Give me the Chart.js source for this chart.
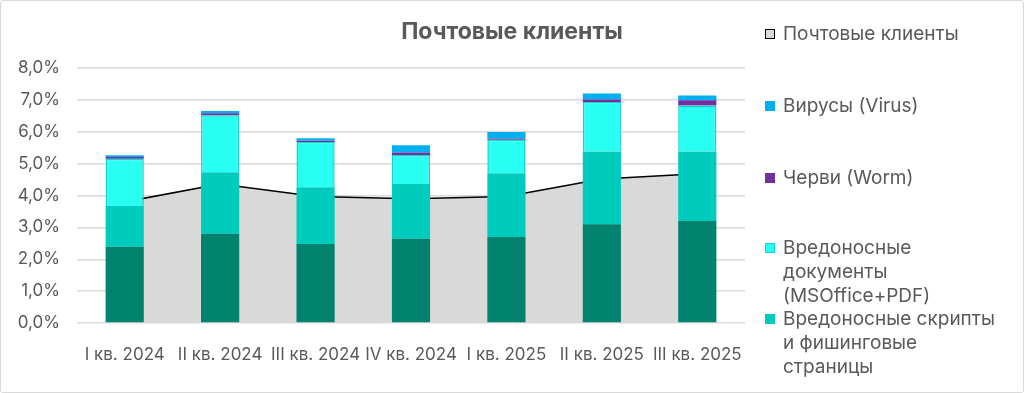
<!DOCTYPE html>
<html>
<head>
<meta charset="utf-8">
<script src="https://cdn.jsdelivr.net/npm/chart.js@4/dist/chart.umd.min.js"></script>
<style>
  html, body { margin: 0; padding: 0; background: #fff; }
  #wrap {
    position: relative; width: 1022px; height: 391px;
    border: 1px solid #d9d9d9; border-radius: 3px; overflow: hidden;
    font-family: Inter, 'Noto Sans', sans-serif; color: #595959;
  }
  #chart { position: absolute; left: -1px; top: -1px; }
  #title {
    position: absolute; left: 0; width: 1022px; top: 16px; text-align: center;
    font-size: 23px; font-weight: 700; color: #595959;
  }
  .item { position: absolute; left: 764px; font-size: 19px; line-height: 24px; }
  .item .mk {
    position: absolute; left: 0; top: 7px; width: 10px; height: 10px; box-sizing: border-box;
  }
  .item .tx { position: absolute; left: 18px; white-space: nowrap; }
</style>
</head>
<body>
<div id="wrap">
  <canvas id="chart" width="1024" height="393"></canvas>
  <div id="title">Почтовые клиенты</div>
  <div id="legend"></div>
</div>
<script>
(function() {
  'use strict';

  var CATEGORIES = ['I кв. 2024', 'II кв. 2024', 'III кв. 2024', 'IV кв. 2024', 'I кв. 2025', 'II кв. 2025', 'III кв. 2025'];
  var MAIL_CLIENTS = [3.80, 4.36, 3.97, 3.90, 3.97, 4.52, 4.68];
  var OTHER   = [2.39, 2.80, 2.48, 2.64, 2.70, 3.10, 3.20];
  var SCRIPTS = [1.28, 1.93, 1.78, 1.72, 2.00, 2.28, 2.18];
  var DOCS    = [1.48, 1.79, 1.42, 0.91, 1.05, 1.55, 1.44];
  var WORM    = [0.06, 0.06, 0.04, 0.08, 0.03, 0.08, 0.17];
  var VIRUS   = [0.05, 0.07, 0.08, 0.23, 0.21, 0.19, 0.15];
  var Y_TICKS = [0, 1, 2, 3, 4, 5, 6, 7, 8];

  var TEXT = '#595959';
  var GRID = '#d9d9d9';
  var FONT = "Inter, 'Noto Sans', sans-serif";

  function bar(label, data, bg, border, bw) {
    return {
      type: 'bar', label: label, data: data, stack: 'bars', order: 1,
      backgroundColor: bg, borderColor: border || bg, borderWidth: bw || 0,
      barPercentage: 0.4, categoryPercentage: 1
    };
  }

  var datasets = [
    bar('Прочее', OTHER, '#00826f'),
    bar('Вредоносные скрипты и фишинговые страницы', SCRIPTS, '#00ccbe'),
    bar('Вредоносные документы (MSOffice+PDF)', DOCS, '#29fff3', '#14d2c6', 1.5),
    bar('Черви (Worm)', WORM, '#7030a0'),
    bar('Вирусы (Virus)', VIRUS, '#00b0f0'),
    {
      type: 'line', label: 'Почтовые клиенты', data: MAIL_CLIENTS, stack: 'area', order: 10,
      borderColor: '#000', borderWidth: 1.6, backgroundColor: '#d9d9d9',
      fill: 'origin', pointRadius: 0, tension: 0
    }
  ];

  new Chart(document.getElementById('chart'), {
    data: { labels: CATEGORIES, datasets: datasets },
    options: {
      responsive: false,
      animation: false,
      layout: { padding: { left: 0, right: 279, top: 68, bottom: 0 } },
      plugins: { legend: { display: false }, tooltip: { enabled: false } },
      scales: {
        x: {
          stacked: true,
          offset: true,
          grid: { display: false },
          border: { display: false },
          ticks: { color: TEXT, font: { family: FONT, size: 17 }, padding: 14, maxRotation: 0 },
          afterFit: function(s) { s.height = 70; }
        },
        y: {
          stacked: true,
          min: 0, max: 8,
          afterBuildTicks: function(s) { s.ticks = Y_TICKS.map(function(v) { return { value: v }; }); },
          grid: { color: GRID, lineWidth: 1.5, drawTicks: false },
          border: { display: false },
          ticks: {
            color: TEXT, font: { family: FONT, size: 17 }, padding: 17,
            callback: function(v) { return v.toFixed(1).replace('.', ',') + '%'; }
          },
          afterFit: function(s) { s.width = 77; }
        }
      }
    }
  });

  // legend on the right, built from the same labels/colours
  var LEGEND = [
    { text: ['Почтовые клиенты'], bg: '#d9d9d9', border: '#000', top: 21 },
    { text: ['Вирусы (Virus)'], bg: '#00b0f0', top: 93 },
    { text: ['Черви (Worm)'], bg: '#7030a0', top: 165 },
    { text: ['Вредоносные', 'документы', '(MSOffice+PDF)'], bg: '#29fff3', border: '#14d2c6', top: 235 },
    { text: ['Вредоносные скрипты', 'и фишинговые', 'страницы'], bg: '#00ccbe', top: 306 }
  ];
  var box = document.getElementById('legend');
  LEGEND.forEach(function(it) {
    var d = document.createElement('div');
    d.className = 'item';
    d.style.top = it.top + 'px';
    var mk = document.createElement('div');
    mk.className = 'mk';
    mk.style.background = it.bg;
    if (it.border) mk.style.border = '1.5px solid ' + it.border;
    var tx = document.createElement('div');
    tx.className = 'tx';
    tx.innerHTML = it.text.join('<br>');
    d.appendChild(mk);
    d.appendChild(tx);
    box.appendChild(d);
  });
})();
</script>
</body>
</html>
